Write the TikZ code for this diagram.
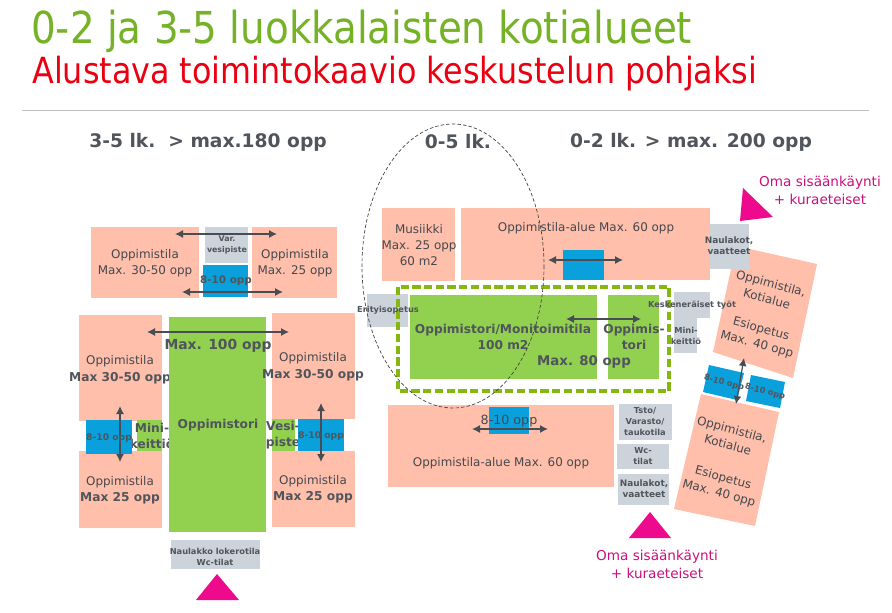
\documentclass[tikz,border=0pt]{standalone}
\usepackage{fontspec}
\setmainfont{DejaVu Sans}
\newfontfamily\titlefont{DejaVu Sans}[FakeStretch=0.883]
\usetikzlibrary{arrows.meta}
\definecolor{peach}{HTML}{FFBFAB}
\definecolor{leaf}{HTML}{92D050}
\definecolor{sky}{HTML}{0AA0DC}
\definecolor{slate}{HTML}{CDD3DA}
\definecolor{ink}{HTML}{50555C}
\definecolor{magenta1}{HTML}{EE0A8C}
\definecolor{magtext}{HTML}{C8107E}
\definecolor{titlegreen}{HTML}{76B227}
\definecolor{titlered}{HTML}{EA0010}
\definecolor{dashgreen}{HTML}{84B811}
\tikzset{
 x=0.75pt,y=-0.75pt,
 peachbox/.style={fill=peach},
 leafbox/.style={fill=leaf},
 skybox/.style={fill=sky},
 slatebox/.style={fill=slate},
 lbl/.style={text=ink!85!black,font=\fontsize{8.95pt}{12pt}\selectfont,align=center,inner sep=0pt},
 lblb/.style={text=ink,font=\fontsize{9.15pt}{12pt}\selectfont\bfseries,align=center,inner sep=0pt},
 lbls/.style={text=ink,font=\fontsize{6.2pt}{8.25pt}\selectfont\bfseries,align=center,inner sep=0pt},
 lbln/.style={text=ink,font=\fontsize{6.7pt}{8.25pt}\selectfont\bfseries,align=center,inner sep=0pt},
 lblblue/.style={text=ink,font=\fontsize{6.9pt}{8.25pt}\selectfont\bfseries,align=center,inner sep=0pt},
 head/.style={text=ink,font=\fontsize{14pt}{16pt}\selectfont\bfseries,inner sep=0pt},
 entry/.style={text=magtext,font=\fontsize{10.2pt}{13.5pt}\selectfont,align=center,inner sep=0pt},
 dbl/.style={draw=ink!90!black,line width=0.9pt,{Latex[length=6pt,width=6pt]}-{Latex[length=6pt,width=6pt]}},
}
\newcommand{\bx}[6]{\node[#1,draw=none,inner sep=0pt,minimum width={(#5-#3)*0.75pt},minimum height={(#6-#4)*0.75pt}] (#2) at ({(#3+#5)/2},{(#4+#6)/2}) {};}
\newcommand{\arrowAB}[6]{\coordinate (#1a) at (#2,#3);\coordinate (#1b) at (#4,#5);\draw[dbl,#6] (#1a) -- (#1b);}
\begin{document}
\begin{tikzpicture}
\useasboundingbox (0,0) rectangle (892,612);
\fill[white] (0,0) rectangle (892,612);
% titles
\node[anchor=base west,inner sep=0pt,text=titlegreen,font=\fontsize{33pt}{36pt}\titlefont] (title) at (31,43) {0-2 ja 3-5 luokkalaisten kotialueet};
\node[anchor=base west,inner sep=0pt,text=titlered,font=\fontsize{27pt}{30pt}\titlefont] (subtitle) at (32,83) {Alustava toimintokaavio keskustelun pohjaksi};
\coordinate (ruleL) at (22,110);\coordinate (ruleR) at (869,110);
\draw[black!25,line width=0.7pt] (ruleL) -- (ruleR);
\node[head] (h1) at (208,142) {3-5 lk.\ \ > max.180 opp};
\node[head] (h2) at (458,142) {0-5 lk.};
\node[head] (h3) at (691,142) {0-2 lk. > max. 200 opp};
% left wing
\bx{peachbox}{a1}{91}{227}{199}{298}
\bx{slatebox}{a2}{205}{227}{248}{263}
\bx{skybox}{a3}{203}{265}{248}{297}
\bx{peachbox}{a4}{252}{227}{337}{298}
\bx{peachbox}{b1}{79}{315}{162}{421}
\bx{peachbox}{b2}{79}{451}{162}{528}
\bx{leafbox}{b4}{137}{420}{162}{451}
\node[lblb] (t8) at (152,436) {Mini-\\keittiö};
\bx{skybox}{b3}{86}{420}{132}{454}
\node[lblb] (t5b) at (120,378) {Max 30-50 opp};
\bx{leafbox}{c0}{169}{317}{266}{532}
\bx{peachbox}{d1}{272}{313}{355}{419}
\bx{peachbox}{d2}{272}{451}{355}{527}
\bx{leafbox}{d3}{272}{419}{295}{451}
\node[lblb] (t13) at (283,435) {Vesi-\\piste};
\bx{skybox}{d4}{298}{419}{344}{451}
\bx{slatebox}{e0}{171}{540}{260}{569}
\fill[magenta1] (196,600) -- (217,574) -- (239,600) -- cycle;
% middle/right
\bx{peachbox}{m1}{382}{208}{455}{281}
\bx{peachbox}{m2}{461}{208}{710}{280}
\bx{skybox}{m3}{563}{250}{604}{280}
\bx{leafbox}{n1}{410}{295}{597}{379}
\bx{leafbox}{n2}{608}{295}{659}{379}
\bx{slatebox}{n3}{367}{294}{408}{327}
\bx{slatebox}{n4}{674}{292}{710}{318}
\bx{slatebox}{n5}{674}{318}{697}{353}
\coordinate (dg1) at (398,287);\coordinate (dg2) at (669,391);
\draw[dashgreen,line width=3pt,dash pattern=on 6.2pt off 2.6pt] (dg1) rectangle (dg2);
\bx{peachbox}{p1}{388}{405}{614}{487}
\bx{skybox}{p2}{489}{407}{529}{434}
\bx{slatebox}{p3}{619}{404}{672}{440}
\bx{slatebox}{p4}{617}{444}{669}{469}
\bx{slatebox}{p5}{618}{474}{669}{505}
\fill[magenta1] (629,538) -- (650,512) -- (671,538) -- cycle;
% rotated wing
\fill[peach] (736,246) -- (817,264) -- (793,378) -- (713,352) -- cycle;
\fill[peach] (701,394) -- (779,412) -- (755,526) -- (674,509) -- cycle;
\fill[sky] (709,365) -- (744,373) -- (737,400) -- (703,392) -- cycle;
\fill[sky] (751,375) -- (785,382) -- (780,408) -- (746,401) -- cycle;
\bx{slatebox}{r0}{710}{224}{749}{269}
\fill[magenta1] (743,188) -- (773,217) -- (740,221) -- cycle;
% ellipse
\coordinate (ell) at (453,266);
\draw[black!75,line width=0.5pt,dash pattern=on 2.6pt off 1.6pt] (ell) ellipse [x radius=91,y radius=142];
% arrows
\arrowAB{q1}{175}{234}{277}{234}{}
\arrowAB{q2}{182}{292}{283}{292}{}
\arrowAB{q3}{147}{332}{289}{332}{}
\arrowAB{q4}{120}{406}{120}{462}{}
\arrowAB{q5}{321}{403}{321}{462}{}
\arrowAB{q6}{548}{260}{623}{260}{}
\arrowAB{q7}{566}{319}{641}{319}{}
\arrowAB{q8}{472}{429}{548}{429}{}
\arrowAB{q9}{744}{358}{736}{404}{}
% labels left
\node[lbl] (t1) at (145,263) {Oppimistila\\Max. 30-50 opp};
\node[lbl] (t2) at (295,263) {Oppimistila\\Max. 25 opp};
\node[lbls,font=\fontsize{5.9pt}{8pt}\selectfont\bfseries] (t3) at (227,245) {Var.\\vesipiste};
\node[lblb,font=\fontsize{7.8pt}{9pt}\selectfont\bfseries] (t4) at (226,281) {8-10 opp};
\node[lbl] (t5) at (120,361) {Oppimistila};
\node[lbl] (t6) at (120,482) {Oppimistila};
\node[lblb] (t6b) at (120,498) {Max 25 opp};
\node[lblblue] (t7) at (109,438) {8-10 opp};
\node[head,font=\fontsize{10.4pt}{13pt}\selectfont\bfseries] (t9) at (218,346) {Max. 100 opp};
\node[lblb] (t10) at (218,425) {Oppimistori};
\node[lbl] (t11) at (313,358) {Oppimistila};
\node[lblb] (t11b) at (313,375) {Max 30-50 opp};
\node[lbl] (t12) at (313,481) {Oppimistila};
\node[lblb] (t12b) at (313,497) {Max 25 opp};
\node[lblblue] (t14) at (321,436) {8-10 opp};
\node[lbls] (t15) at (215,557) {Naulakko lokerotila\\Wc-tilat};
% labels middle
\node[lbl] (u1) at (419,245) {Musiikki\\Max. 25 opp\\60 m2};
\node[lbl] (u2) at (586,228) {Oppimistila-alue Max. 60 opp};
\node[lbls] (u3) at (388,310) {Erityisopetus};
\node[lblb] (u4) at (503,337) {Oppimistori/Monitoimitila\\100 m2};
\node[lblb] (u5) at (634,337) {Oppimis-\\tori};
\node[head,font=\fontsize{10pt}{13pt}\selectfont\bfseries] (u6) at (584,362) {Max. 80 opp};
\node[lbls] (u7) at (692,305) {Keskeneräiset työt};
\node[lbls] (u8) at (686,336) {Mini-\\keittiö};
\node[lbl,font=\fontsize{9.5pt}{12pt}\selectfont] (u9) at (509,421) {8-10 opp};
\node[lbl] (u10) at (501,463) {Oppimistila-alue Max. 60 opp};
\node[lbls] (u11) at (645,422) {Tsto/\\Varasto/\\taukotila};
\node[lbls] (u12) at (643,456) {Wc-\\tilat};
\node[lbln] (u13) at (644,489) {Naulakot,\\vaatteet};
\node[lbln] (u14) at (729,246) {Naulakot,\\vaatteet};
\node[lbl,rotate=-15] (v1) at (769,291) {Oppimistila,\\Kotialue};
\node[lbl,rotate=-15] (v2) at (759,337) {Esiopetus\\Max. 40 opp};
\node[lbl,rotate=-15] (v3) at (730,437) {Oppimistila,\\Kotialue};
\node[lbl,rotate=-15] (v4) at (721,486) {Esiopetus\\Max. 40 opp};
\node[lbls,rotate=-15] (v5) at (724,383) {8-10 opp};
\node[lbls,rotate=-15] (v6) at (765,392) {8-10 opp};
\node[entry] (w1) at (820,190) {Oma sisäänkäynti\\+ kuraeteiset};
\node[entry] (w2) at (657,564) {Oma sisäänkäynti\\+ kuraeteiset};
\end{tikzpicture}
\end{document}
